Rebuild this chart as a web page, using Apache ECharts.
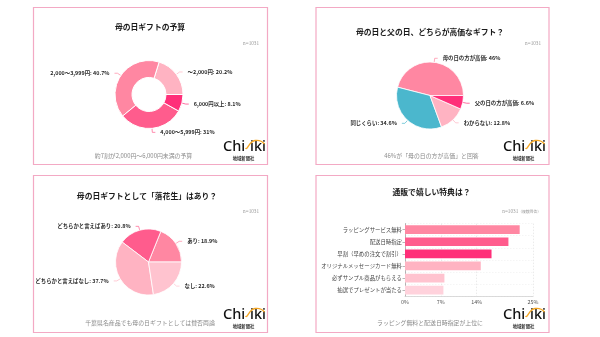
<!DOCTYPE html>
<html><head><meta charset="utf-8">
<script src="https://cdn.jsdelivr.net/npm/echarts@6/dist/echarts.min.js"></script>
<style>html,body{margin:0;padding:0;background:#fff}#c{width:600px;height:337px}</style>
</head><body><div id="c"></div>
<script>
// ---- data ----
const budgetLabels = ['〜2,000円', '2,000〜3,999円', '4,000〜5,999円', '6,000円以上'];
const budgetValues = [20.2, 40.7, 31, 8.1];

const compareLabels = ['母の日の方が高価', '同じくらい', 'わからない', '父の日の方が高価'];
const compareValues = [46, 34.6, 12.8, 6.6];

const peanutLabels = ['あり', 'どちらかと言えばあり', 'どちらかと言えばなし', 'なし'];
const peanutValues = [18.9, 20.8, 37.7, 22.6];

const perkLabels = ['ラッピングサービス無料', '配送日時指定', '早割（早めの注文で割引）', 'オリジナルメッセージカード無料', '必ずサンプル商品がもらえる', '抽選でプレゼントが当たる'];
const perkValues = [22.4, 20.2, 16.9, 14.8, 7.7, 7.5];
const perkTicks = [0, 7, 14, 25];

const titles = ['母の日ギフトの予算', '母の日と父の日、どちらが高価なギフト？', '母の日ギフトとして「落花生」はあり？', '通販で嬉しい特典は？'];
const footers = ['約7割が2,000円〜6,000円未満の予算', '46%が「母の日の方が高価」と回答', '千葉県名産品でも母の日ギフトとしては賛否両論', 'ラッピング無料と配送日時指定が上位に'];
const sampleNote = 'n=1031';
const multiNote = '（複数回答）';
const logoParts = ['Chi', 'iki', '地域新聞社'];

// ---- styles ----
const JP = '"Noto Sans CJK JP", "Noto Sans", sans-serif';
const budgetColors = ['#ffb3c2', '#ff87a2', '#ff5c8d', '#ff2f79'];
const compareColors = ['#ff87a2', '#4bb7cd', '#ffb3c2', '#ff2f79'];
const peanutColors = ['#ff87a2', '#ff5c8d', '#ffb3c2', '#ffc3cf'];
const perkColors = ['#ff87a2', '#ff5c8d', '#ff2f79', '#ffb3c2', '#ffc3cf', '#ffd2dc'];

const panels = [
  {x: 33.5, y: 7.5, w: 234, h: 157, tx: 150, ty: 26.7, fx: 143.5, fy: 156, nx: 259, ny: 44, lx: 223, ly: 147},
  {x: 316, y: 7.5, w: 233, h: 157, tx: 430, ty: 31.7, fx: 431.5, fy: 156, nx: 541, ny: 44, lx: 503, ly: 147},
  {x: 33.5, y: 175.5, w: 234, h: 157, tx: 147, ty: 196.3, fx: 150, fy: 322.5, nx: 259, ny: 211.7, lx: 223, ly: 315},
  {x: 316, y: 175.5, w: 233, h: 157, tx: 431.5, ty: 192, fx: 430, fy: 323, nx: 541, ny: 211.3, lx: 503, ly: 315}
];

const graphics = [];
panels.forEach((p, i) => {
  graphics.push({type: 'rect', shape: {x: p.x, y: p.y, width: p.w, height: p.h},
    style: {fill: '#fff', stroke: '#f3a9c4', lineWidth: 1.2}, z: -10});
  graphics.push({type: 'text', x: p.tx, y: p.ty, style: {text: titles[i], font: 'bold 7.8px ' + JP,
    fill: '#1a1a1a', textAlign: 'center', textVerticalAlign: 'middle'}});
  graphics.push({type: 'text', x: p.fx, y: p.fy, style: {text: footers[i], font: '5.9px ' + JP,
    fill: '#8a8a8a', textAlign: 'center', textVerticalAlign: 'middle'}});
  if (i === 3) {
    graphics.push({type: 'text', x: p.nx, y: p.ny, style: {
      text: '{a|' + sampleNote + '}{b|' + multiNote + '}', rich: {
        a: {fontFamily: '"Liberation Serif", serif', fontSize: 5.2, fill: '#999'},
        b: {fontFamily: JP, fontSize: 3.8, fill: '#999'}},
      textAlign: 'right', textVerticalAlign: 'middle'}});
  } else {
    graphics.push({type: 'text', x: p.nx, y: p.ny, style: {text: sampleNote, font: '5.2px "Liberation Serif", serif',
      fill: '#999', textAlign: 'right', textVerticalAlign: 'middle'}});
  }
  // logo
  const lx = p.lx, ly = p.ly;
  graphics.push({type: 'text', x: lx, y: ly, style: {text: logoParts[0], font: '500 14.5px "Noto Sans", sans-serif',
    fill: '#111', textAlign: 'left', textVerticalAlign: 'middle'}});
  graphics.push({type: 'text', x: lx + 27, y: ly, style: {text: logoParts[1], font: '500 14.5px "Noto Sans", sans-serif',
    fill: '#111', textAlign: 'left', textVerticalAlign: 'middle'}});
  graphics.push({type: 'bezierCurve', shape: {x1: lx + 22.5, y1: ly + 1, cpx1: lx + 24.5, cpy1: ly + 4, cpx2: lx + 26, cpy2: ly - 6, x2: lx + 32, y2: ly - 6.5},
    style: {stroke: '#f5a623', lineWidth: 1.3, fill: null}});
  graphics.push({type: 'bezierCurve', shape: {x1: lx + 32, y1: ly - 6.5, cpx1: lx + 36, cpy1: ly - 7, cpx2: lx + 39.5, cpy2: ly - 5.5, x2: lx + 41.5, y2: ly - 3},
    style: {stroke: '#f5a623', lineWidth: 1.3, fill: null}});
  graphics.push({type: 'text', x: lx + 20.5, y: ly + 11, style: {text: logoParts[2], font: 'bold 4.3px ' + JP,
    fill: '#333', textAlign: 'center', textVerticalAlign: 'middle'}});
});

function pieData(labels, values, colors) {
  return labels.map((n, i) => ({name: n, value: values[i], itemStyle: {color: colors[i]}}));
}
const pieLabel = {show: true, formatter: '{b}: {c}%', fontSize: 5.4, fontFamily: JP, color: '#2a2a2a', fontWeight: 'bold'};
const pieLine = {show: true, length: 4, length2: 3, lineStyle: {width: 0.7}};

const option = {
  animation: false,
  graphic: graphics,
  grid: {left: 405, right: 67, top: 223.6, height: 72.6, containLabel: false},
  xAxis: {type: 'value', min: 0, max: 25,
    axisLine: {show: true, lineStyle: {color: '#ccc', width: 0.7}},
    axisTick: {show: false, customValues: perkTicks},
    axisLabel: {customValues: perkTicks, formatter: '{value}%', fontSize: 5.4, color: '#555', margin: 3, fontFamily: JP},
    splitLine: {show: true, lineStyle: {color: '#ddd', type: [1.5, 1.5], width: 0.6}}},
  yAxis: {type: 'category', data: perkLabels, inverse: true,
    axisLine: {show: true, lineStyle: {color: '#999', width: 0.7}},
    axisTick: {show: true, alignWithLabel: true, length: 2.5, lineStyle: {color: '#999', width: 0.7}},
    axisLabel: {fontSize: 5.4, color: '#444', margin: 3, fontFamily: JP},
    splitLine: {show: true, lineStyle: {color: '#eee', type: [1.5, 1.5], width: 0.6}}},
  series: [
    {type: 'pie', center: [149, 94.5], radius: [17, 34], startAngle: 0, clockwise: false,
      data: pieData(budgetLabels, budgetValues, budgetColors),
      itemStyle: {borderColor: '#fff', borderWidth: 1}, label: pieLabel, labelLine: pieLine},
    {type: 'pie', center: [430, 95.5], radius: [0, 33.5], startAngle: 0, clockwise: false,
      data: pieData(compareLabels, compareValues, compareColors),
      itemStyle: {borderColor: '#fff', borderWidth: 0.8}, label: pieLabel, labelLine: pieLine},
    {type: 'pie', center: [148.5, 262], radius: [0, 33], startAngle: 0, clockwise: false,
      data: pieData(peanutLabels, peanutValues, peanutColors),
      itemStyle: {borderColor: '#fff', borderWidth: 0.8}, label: pieLabel, labelLine: pieLine},
    {type: 'bar', barCategoryGap: '28%',
      data: perkValues.map((v, i) => ({value: v, itemStyle: {color: perkColors[i]}}))}
  ]
};
const chart = echarts.init(document.getElementById('c'), null, {renderer: 'canvas'});
chart.setOption(option);
</script></body></html>
